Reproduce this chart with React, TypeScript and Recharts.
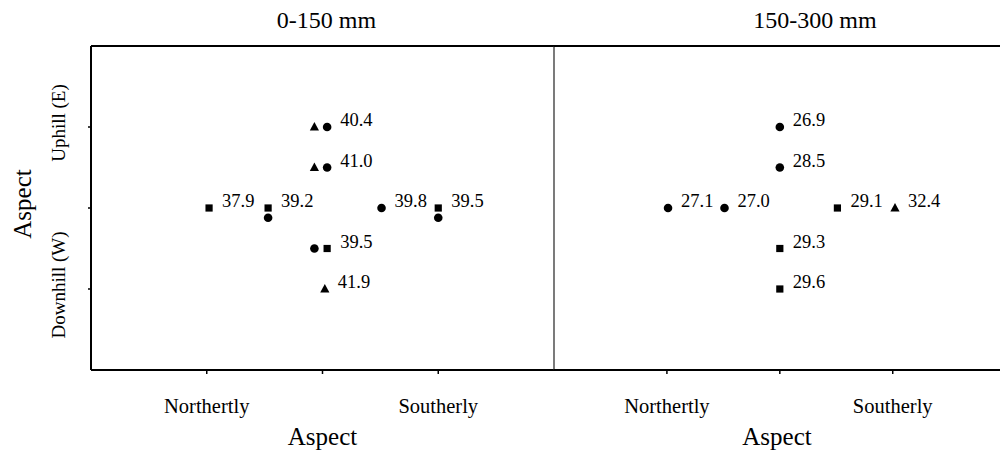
import React from 'react';
import { ScatterChart, Scatter, XAxis, YAxis, ReferenceLine } from 'recharts';

const FONT = '"Liberation Serif", "Times New Roman", Times, serif';

// ---- text ----
const panelTitles = ['0-150 mm', '150-300 mm'];
const axisTitle = 'Aspect';
const xTickValues = [1, 2, 3];
const xTickLabels = ['Northertly', '', 'Southerly'];
const yTickValues = [1, 2, 3];
const yTickLabels = ['Downhill (W)', '', 'Uphill (E)'];

// ---- left panel (0-150 mm) ----
const leftCircles = [
  { x: 2.04, y: 3 },
  { x: 2.04, y: 2.5 },
  { x: 1.53, y: 1.88 },
  { x: 2.51, y: 2 },
  { x: 3.0, y: 1.88 },
  { x: 1.93, y: 1.5 },
];
const leftSquares = [
  { x: 1.02, y: 2 },
  { x: 1.53, y: 2 },
  { x: 3.0, y: 2 },
  { x: 2.04, y: 1.5 },
];
const leftTriangles = [
  { x: 1.93, y: 3 },
  { x: 1.93, y: 2.5 },
  { x: 2.02, y: 1 },
];
const leftLabels = [
  { x: 2.04, y: 3, label: '40.4' },
  { x: 2.04, y: 2.5, label: '41.0' },
  { x: 1.02, y: 2, label: '37.9' },
  { x: 1.53, y: 2, label: '39.2' },
  { x: 2.51, y: 2, label: '39.8' },
  { x: 3.0, y: 2, label: '39.5' },
  { x: 2.04, y: 1.5, label: '39.5' },
  { x: 2.02, y: 1, label: '41.9' },
];

// ---- right panel (150-300 mm) ----
const rightCircles = [
  { x: 2.0, y: 3 },
  { x: 2.0, y: 2.5 },
  { x: 1.01, y: 2 },
  { x: 1.51, y: 2 },
];
const rightSquares = [
  { x: 2.51, y: 2 },
  { x: 2.0, y: 1.5 },
  { x: 2.0, y: 1 },
];
const rightTriangles = [{ x: 3.02, y: 2 }];
const rightLabels = [
  { x: 2.0, y: 3, label: '26.9' },
  { x: 2.0, y: 2.5, label: '28.5' },
  { x: 1.01, y: 2, label: '27.1' },
  { x: 1.51, y: 2, label: '27.0' },
  { x: 2.51, y: 2, label: '29.1' },
  { x: 3.02, y: 2, label: '32.4' },
  { x: 2.0, y: 1.5, label: '29.3' },
  { x: 2.0, y: 1, label: '29.6' },
];

const INK = '#000';

const CircleShape = (p: any) => <circle cx={p.cx} cy={p.cy} r={4.3} fill={INK} />;
const SquareShape = (p: any) => <rect x={p.cx - 3.6} y={p.cy - 3.6} width={7.2} height={7.2} fill={INK} />;
const TriangleShape = (p: any) => (
  <polygon
    points={`${p.cx},${p.cy - 5} ${p.cx - 4.6},${p.cy + 3.5} ${p.cx + 4.6},${p.cy + 3.5}`}
    fill={INK}
  />
);
const LabelShape = (p: any) => (
  <text x={p.cx + 13} y={p.cy - 1} fontFamily={FONT} fontSize={18.5} fill={INK}>
    {p.payload.label}
  </text>
);

const XTick = (p: any) => {
  const i = xTickValues.indexOf(p.payload.value);
  const t = i >= 0 ? xTickLabels[i] : '';
  if (!t) return <g />;
  return (
    <text x={p.x} y={413} textAnchor="middle" fontFamily={FONT} fontSize={20.5} fill={INK}>
      {t}
    </text>
  );
};

const YTick = (p: any) => {
  const i = yTickValues.indexOf(p.payload.value);
  const t = i >= 0 ? yTickLabels[i] : '';
  if (!t) return <g />;
  const cx = 58;
  const cy = p.y - 4;
  return (
    <text
      x={cx}
      y={cy}
      transform={`rotate(-90 ${cx} ${cy})`}
      textAnchor="middle"
      dominantBaseline="central"
      fontFamily={FONT}
      fontSize={19}
      fill={INK}
    >
      {t}
    </text>
  );
};

type PanelProps = {
  title: string;
  titleDx: number;
  circles: any[];
  squares: any[];
  triangles: any[];
  labels: any[];
  xMax: number;
  left: number;
  width: number;
  isLeft: boolean;
};

const Panel = ({ title, titleDx, circles, squares, triangles, labels, xMax, left, width, isLeft }: PanelProps) => (
  <div style={{ position: 'absolute', left, top: 0, width, height: 451 }}>
    <ScatterChart
      width={width}
      height={451}
      margin={{ top: 0, right: 0, bottom: 0, left: isLeft ? 0 : 4 }}
    >
      <XAxis
        xAxisId="top"
        orientation="top"
        type="number"
        dataKey="x"
        domain={[0, xMax]}
        height={46}
        tick={false}
        tickLine={false}
        axisLine={{ stroke: INK, strokeWidth: 2 }}
        label={{
          content: (lp: any) => {
            const vb = lp.viewBox || { x: 0, width };
            return (
              <text
                x={vb.x + vb.width / 2 + titleDx}
                y={28}
                textAnchor="middle"
                fontFamily={FONT}
                fontSize={24}
                fill={INK}
              >
                {title}
              </text>
            );
          },
        }}
      />
      <XAxis
        type="number"
        dataKey="x"
        domain={[0, xMax]}
        ticks={xTickValues}
        allowDataOverflow
        height={81}
        tickSize={4}
        tickLine={{ stroke: INK, strokeWidth: 1.5 }}
        axisLine={{ stroke: INK, strokeWidth: 2 }}
        tick={<XTick />}
        label={{
          content: (lp: any) => {
            const vb = lp.viewBox || { x: 0, width };
            return (
              <text
                x={vb.x + vb.width / 2}
                y={445}
                textAnchor="middle"
                fontFamily={FONT}
                fontSize={25}
                fill={INK}
              >
                {axisTitle}
              </text>
            );
          },
        }}
      />
      {isLeft ? (
        <YAxis
          type="number"
          dataKey="y"
          domain={[0, 4]}
          ticks={yTickValues}
          width={91}
          tickSize={3}
          tickLine={{ stroke: INK, strokeWidth: 1.5 }}
          axisLine={{ stroke: INK, strokeWidth: 2 }}
          tick={<YTick />}
          label={{
            content: () => (
              <text
                x={22}
                y={204}
                transform="rotate(-90 22 204)"
                textAnchor="middle"
                dominantBaseline="central"
                fontFamily={FONT}
                fontSize={25}
                fill={INK}
              >
                {axisTitle}
              </text>
            ),
          }}
        />
      ) : (
        <YAxis type="number" dataKey="y" domain={[0, 4]} hide />
      )}
      {!isLeft && <ReferenceLine x={0} stroke="#222" strokeWidth={1.2} ifOverflow="visible" />}
      <Scatter data={circles} shape={CircleShape} isAnimationActive={false} />
      <Scatter data={squares} shape={SquareShape} isAnimationActive={false} />
      <Scatter data={triangles} shape={TriangleShape} isAnimationActive={false} />
      <Scatter data={labels} shape={LabelShape} isAnimationActive={false} />
    </ScatterChart>
  </div>
);

export default function App() {
  return (
    <div style={{ position: 'absolute', left: 0, top: 0, width: 1000, height: 451, background: '#fff', overflow: 'hidden' }}>
      <Panel
        title={panelTitles[0]}
        titleDx={4}
        circles={leftCircles}
        squares={leftSquares}
        triangles={leftTriangles}
        labels={leftLabels}
        xMax={4}
        left={0}
        width={554}
        isLeft
      />
      <Panel
        title={panelTitles[1]}
        titleDx={38}
        circles={rightCircles}
        squares={rightSquares}
        triangles={rightTriangles}
        labels={rightLabels}
        xMax={3.95}
        left={550}
        width={450}
        isLeft={false}
      />
    </div>
  );
}
